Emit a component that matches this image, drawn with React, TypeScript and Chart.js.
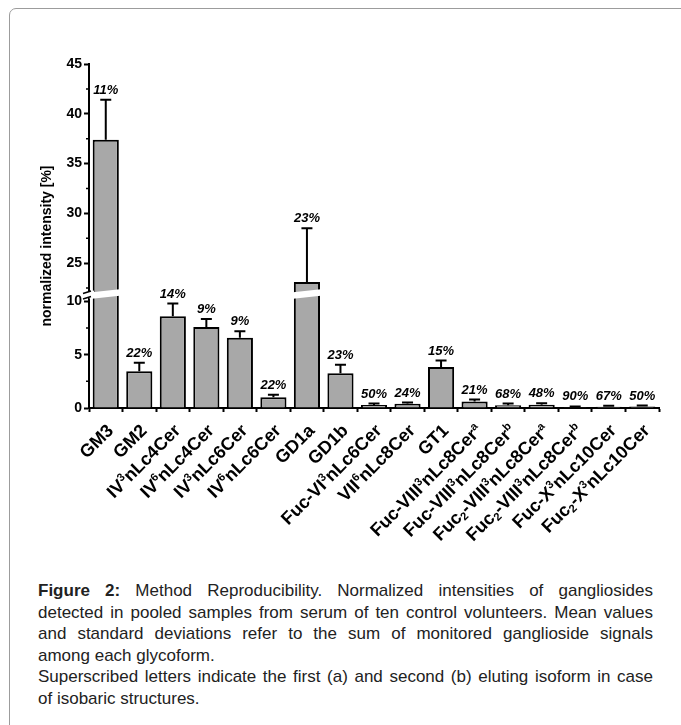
import React, { useEffect, useRef } from 'react';
import { Chart, registerables } from 'chart.js';

Chart.register(...registerables);

const categories = [
  'GM3', 'GM2', 'IV³nLc4Cer', 'IV⁶nLc4Cer', 'IV³nLc6Cer', 'IV⁶nLc6Cer', 'GD1a', 'GD1b',
  'Fuc-VI³nLc6Cer', 'VII⁶nLc8Cer', 'GT1', 'Fuc-VIII³nLc8Cerᵃ', 'Fuc-VIII³nLc8Cerᵇ',
  'Fuc₂-VIII³nLc8Cerᵃ', 'Fuc₂-VIII³nLc8Cerᵇ', 'Fuc-X³nLc10Cer', 'Fuc₂-X³nLc10Cer',
];
const means = [37.4, 3.45, 8.6, 7.6, 6.6, 1.0, 23.1, 3.25, 0.28, 0.4, 3.85, 0.6, 0.25, 0.3, 0.08, 0.12, 0.15];
const sds = [4.0, 0.8, 1.2, 0.75, 0.6, 0.25, 5.4, 0.8, 0.14, 0.12, 0.6, 0.2, 0.17, 0.15, 0.07, 0.08, 0.08];
const cvLabels = ['11%', '22%', '14%', '9%', '9%', '22%', '23%', '23%', '50%', '24%', '15%', '21%', '68%', '48%', '90%', '67%', '50%'];
const upperTicks = [25, 30, 35, 40, 45];
const lowerTicks = [0, 5, 10];
const upperMinor = [22.5, 27.5, 32.5, 37.5, 42.5];
const lowerMinor = [2.5, 7.5];

const UPPER_MIN = 21.9;
const UPPER_MAX = 45;
const LOWER_MIN = 0;
const LOWER_MAX = 10.7;

const FONT = "'Liberation Sans', Arial, Helvetica, sans-serif";
const LABEL_SIZE = 18;

const SUP: Record<string, string> = { '³': '3', '⁶': '6', 'ᵃ': 'a', 'ᵇ': 'b' };
const SUB: Record<string, string> = { '₂': '2' };

function scaleFor(chart: any, v: number) {
  return v > LOWER_MAX ? chart.scales.yUp : chart.scales.y;
}

function drawRichLabel(ctx: CanvasRenderingContext2D, text: string, size: number) {
  const small = size * 0.62;
  const segs = Array.from(text).map((ch) => {
    if (SUP[ch]) return { t: SUP[ch], kind: 'sup' };
    if (SUB[ch]) return { t: SUB[ch], kind: 'sub' };
    return { t: ch, kind: 'n' };
  });
  const widths = segs.map((s) => {
    ctx.font = `bold ${s.kind === 'n' ? size : small}px ${FONT}`;
    return ctx.measureText(s.t).width;
  });
  const total = widths.reduce((a, b) => a + b, 0);
  let x = -total;
  const base = size * 0.36;
  ctx.textAlign = 'left';
  ctx.textBaseline = 'alphabetic';
  segs.forEach((s, i) => {
    ctx.font = `bold ${s.kind === 'n' ? size : small}px ${FONT}`;
    let y = base;
    if (s.kind === 'sup') y = base - size * 0.38;
    if (s.kind === 'sub') y = base + size * 0.16;
    ctx.fillText(s.t, x, y);
    x += widths[i];
  });
}

const brokenPlugin = {
  id: 'brokenAxis',
  beforeDatasetDraw(chart: any, args: any) {
    const ds = chart.data.datasets[args.index];
    const s = chart.scales[ds.yAxisID];
    const ctx = chart.ctx;
    const ca = chart.chartArea;
    ctx.save();
    ctx.beginPath();
    ctx.rect(ca.left, s.top, ca.right - ca.left, s.bottom - s.top);
    ctx.clip();
  },
  afterDatasetDraw(chart: any) {
    chart.ctx.restore();
  },
  afterDatasetsDraw(chart: any) {
    const ctx = chart.ctx;
    const meta = chart.getDatasetMeta(0);
    const yLow = chart.scales.y;
    const B = yLow.top;
    const axisX = chart.chartArea.left;

    ctx.save();
    ctx.fillStyle = '#ffffff';
    meta.data.forEach((bar: any, i: number) => {
      if (means[i] <= LOWER_MAX) return;
      const w = bar.width;
      const l = bar.x - w / 2 - 3;
      const r = bar.x + w / 2 + 3;
      ctx.beginPath();
      ctx.moveTo(l, B - 1.5);
      ctx.lineTo(r, B - 5);
      ctx.lineTo(r, B + 1.5);
      ctx.lineTo(l, B + 5);
      ctx.closePath();
      ctx.fill();
    });
    ctx.beginPath();
    ctx.moveTo(axisX - 7, B - 0.5);
    ctx.lineTo(axisX + 5, B - 3.5);
    ctx.lineTo(axisX + 5, B + 2.5);
    ctx.lineTo(axisX - 7, B + 5.5);
    ctx.closePath();
    ctx.fill();
    ctx.strokeStyle = '#000';
    ctx.lineWidth = 1.5;
    ctx.beginPath();
    ctx.moveTo(axisX - 6, B - 0.5);
    ctx.lineTo(axisX + 2, B - 3);
    ctx.moveTo(axisX - 6, B + 5);
    ctx.lineTo(axisX + 2, B + 2.5);
    ctx.stroke();

    ctx.strokeStyle = '#000';
    ctx.lineWidth = 2;
    ctx.fillStyle = '#000';
    ctx.font = `italic bold 13px ${FONT}`;
    ctx.textAlign = 'center';
    ctx.textBaseline = 'bottom';
    meta.data.forEach((bar: any, i: number) => {
      const top = means[i] + sds[i];
      const y0 = scaleFor(chart, means[i]).getPixelForValue(means[i]);
      const y1 = scaleFor(chart, top).getPixelForValue(top);
      ctx.beginPath();
      ctx.moveTo(bar.x, y0);
      ctx.lineTo(bar.x, y1);
      ctx.moveTo(bar.x - 5.5, y1);
      ctx.lineTo(bar.x + 5.5, y1);
      ctx.stroke();
      ctx.fillText(cvLabels[i], bar.x, y1 - 3);
    });
    ctx.restore();
  },
  afterDraw(chart: any) {
    const ctx = chart.ctx;
    const ca = chart.chartArea;
    const xs = chart.scales.x;
    ctx.save();
    ctx.strokeStyle = '#000';
    ctx.lineWidth = 1.5;
    ctx.beginPath();
    upperMinor.forEach((v) => {
      const y = chart.scales.yUp.getPixelForValue(v);
      ctx.moveTo(ca.left - 3, y);
      ctx.lineTo(ca.left, y);
    });
    lowerMinor.forEach((v) => {
      const y = chart.scales.y.getPixelForValue(v);
      ctx.moveTo(ca.left - 3, y);
      ctx.lineTo(ca.left, y);
    });
    ctx.stroke();

    ctx.fillStyle = '#000';
    categories.forEach((lab, i) => {
      const px = xs.getPixelForTick(i);
      ctx.save();
      ctx.translate(px + 4, ca.bottom + 19);
      ctx.rotate(-Math.PI / 4);
      drawRichLabel(ctx, lab, LABEL_SIZE);
      ctx.restore();
    });

    ctx.translate(47, (ca.top + ca.bottom) / 2 + 10);
    ctx.rotate(-Math.PI / 2);
    ctx.font = `bold 14px ${FONT}`;
    ctx.fillStyle = '#000';
    ctx.textAlign = 'center';
    ctx.textBaseline = 'middle';
    ctx.fillText('normalized intensity [%]', 0, 0);
    ctx.restore();
  },
};

const tickFont = { family: FONT, size: 14, weight: 'bold' as const };

export default function App() {
  const ref = useRef<HTMLCanvasElement | null>(null);

  useEffect(() => {
    if (!ref.current) return;
    const barStyle = {
      backgroundColor: '#a8a8a8',
      borderColor: '#000000',
      borderWidth: 2,
      borderSkipped: 'start' as const,
      grouped: false,
      barPercentage: 0.78,
      categoryPercentage: 1,
    };
    const yGrid = {
      drawOnChartArea: false,
      drawTicks: true,
      tickLength: 5,
      tickWidth: 2,
      tickColor: '#000',
    };
    const chart = new Chart(ref.current, {
      type: 'bar',
      data: {
        labels: categories,
        datasets: [
          { label: 'lower', data: means, yAxisID: 'y', ...barStyle },
          { label: 'upper', data: means, yAxisID: 'yUp', ...barStyle },
        ],
      },
      plugins: [brokenPlugin],
      options: {
        responsive: false,
        animation: false,
        layout: { padding: { top: 64, right: 22, bottom: 12, left: 0 } },
        plugins: { legend: { display: false }, tooltip: { enabled: false } },
        scales: {
          x: {
            type: 'category',
            offset: true,
            grid: {
              offset: true,
              drawOnChartArea: false,
              drawTicks: true,
              tickLength: 4,
              tickWidth: 2,
              tickColor: '#000',
            },
            border: { display: true, color: '#000', width: 2 },
            ticks: { display: false, autoSkip: false },
            afterFit: (s: any) => {
              s.height = 140;
            },
          },
          y: {
            type: 'linear',
            position: 'left',
            stack: 'ybroken',
            stackWeight: 114,
            min: LOWER_MIN,
            max: LOWER_MAX,
            grid: yGrid,
            border: { display: true, color: '#000', width: 2 },
            ticks: { color: '#000', font: tickFont, padding: 2 },
            afterBuildTicks: (s: any) => {
              s.ticks = lowerTicks.map((v) => ({ value: v }));
            },
            afterFit: (s: any) => {
              s.width = 89;
            },
          },
          yUp: {
            type: 'linear',
            position: 'left',
            stack: 'ybroken',
            stackWeight: 230,
            min: UPPER_MIN,
            max: UPPER_MAX,
            grid: yGrid,
            border: { display: true, color: '#000', width: 2 },
            ticks: { color: '#000', font: tickFont, padding: 2 },
            afterBuildTicks: (s: any) => {
              s.ticks = upperTicks.map((v) => ({ value: v }));
            },
            afterFit: (s: any) => {
              s.width = 89;
            },
          },
        },
      },
    } as any);
    return () => chart.destroy();
  }, []);

  const lineStyle = (justify: boolean): React.CSSProperties => ({
    whiteSpace: 'nowrap',
    textAlign: justify ? 'justify' : 'left',
    textAlignLast: justify ? 'justify' : 'left',
  });

  return (
    <>
      <style>{`html,body{overflow:hidden;background:#fff;}`}</style>
      <div
        style={{
          position: 'absolute',
          left: 9,
          top: 8,
          width: 720,
          height: 800,
          border: '1px solid #9c9c9c',
          borderTopLeftRadius: 7,
          boxSizing: 'border-box',
        }}
      />
      <canvas
        ref={ref}
        width={681}
        height={560}
        style={{ position: 'absolute', left: 0, top: 0, width: 681, height: 560 }}
      />
      <div
        style={{
          position: 'absolute',
          left: 38,
          top: 580,
          width: 615,
          fontFamily: FONT,
          fontSize: 17,
          lineHeight: '21.5px',
          color: '#222',
        }}
      >
        <div style={lineStyle(true)}>
          <b>Figure 2:</b> Method Reproducibility. Normalized intensities of gangliosides
        </div>
        <div style={lineStyle(true)}>
          detected in pooled samples from serum of ten control volunteers. Mean values
        </div>
        <div style={lineStyle(true)}>
          and standard deviations refer to the sum of monitored ganglioside signals
        </div>
        <div style={lineStyle(false)}>among each glycoform.</div>
        <div style={lineStyle(true)}>
          Superscribed letters indicate the first (a) and second (b) eluting isoform in case
        </div>
        <div style={lineStyle(false)}>of isobaric structures.</div>
      </div>
    </>
  );
}
